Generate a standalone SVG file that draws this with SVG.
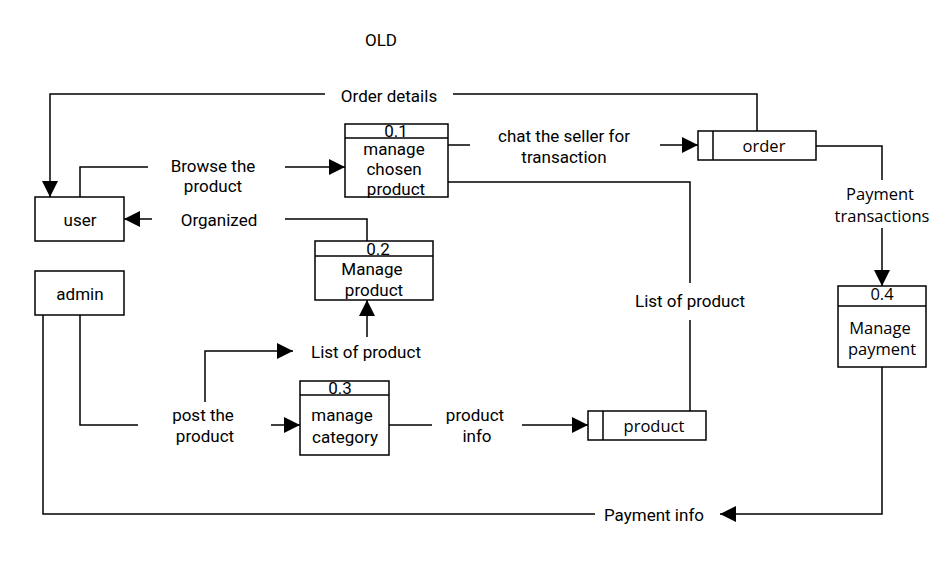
<svg xmlns="http://www.w3.org/2000/svg" width="948" height="588" viewBox="0 0 948 588">
<style>
.b{fill:#fff;stroke:#000;stroke-width:1.5}
.l{fill:none;stroke:#000;stroke-width:1.5}
text{font-family:Roboto,"Liberation Sans",sans-serif;font-size:17px;fill:#000;text-anchor:middle}
.o{font-family:"Open Sans",Roboto,sans-serif;font-size:16.5px}
</style>
<defs>
<marker id="a" viewBox="0 0 10 10" refX="10" refY="5" markerWidth="16" markerHeight="16" markerUnits="userSpaceOnUse" orient="auto">
<path d="M0,0 L10,5 L0,10 z" fill="#000"/>
</marker>
</defs>
<rect width="948" height="588" fill="#fff"/>
<text x="381" y="46">OLD</text>
<g id="connectors">
<path class="l" d="M757,131 V94 H453"/>
<path class="l" d="M325,94 H50 V197" marker-end="url(#a)"/>
<path class="l" d="M80,197 V167 H148"/>
<path class="l" d="M285,167 H345" marker-end="url(#a)"/>
<path class="l" d="M367,241 V219 H285"/>
<path class="l" d="M152,219 H124" marker-end="url(#a)"/>
<path class="l" d="M448,145 H470"/>
<path class="l" d="M660,145 H698" marker-end="url(#a)"/>
<path class="l" d="M448,182 H690 V283"/>
<path class="l" d="M690,320 V411"/>
<path class="l" d="M816,146 H882 V180"/>
<path class="l" d="M882,228 V286" marker-end="url(#a)"/>
<path class="l" d="M882,367 V514 H720" marker-end="url(#a)"/>
<path class="l" d="M595,514 H43 V315"/>
<path class="l" d="M80,315 V425 H138"/>
<path class="l" d="M271,425 H300" marker-end="url(#a)"/>
<path class="l" d="M205,402 V351 H293" marker-end="url(#a)"/>
<path class="l" d="M367,337 V300" marker-end="url(#a)"/>
<path class="l" d="M389,425 H432"/>
<path class="l" d="M522,425 H588" marker-end="url(#a)"/>
<text x="389" y="102">Order details</text>
<text x="213" y="172">Browse the</text>
<text x="213" y="192">product</text>
<text x="219" y="226">Organized</text>
<text x="564" y="142">chat the seller for</text>
<text x="564" y="163">transaction</text>
<text x="690" y="307">List of product</text>
<text class="o" x="880" y="200">Payment</text>
<text class="o" x="882" y="222">transactions</text>
<text x="654" y="521">Payment info</text>
<text x="366" y="358">List of product</text>
<text x="203" y="421">post the</text>
<text x="205" y="442">product</text>
<text x="475" y="421">product</text>
<text x="477" y="442">info</text>
</g>
<g id="user"><rect class="b" x="35" y="197" width="89" height="44"/><text x="80" y="226">user</text></g>
<g id="admin"><rect class="b" x="35" y="271" width="89" height="44"/><text x="80" y="300">admin</text></g>
<g id="p01"><rect class="b" x="345" y="124" width="103" height="73"/><path class="l" d="M345,138 H448"/>
<text x="396" y="137">0.1</text><text x="394" y="155">manage</text><text x="394" y="175">chosen</text><text x="396" y="195">product</text></g>
<g id="p02"><rect class="b" x="315" y="241" width="118" height="59"/><path class="l" d="M315,256 H433"/>
<text x="378" y="255">0.2</text><text x="372" y="275">Manage</text><text x="374" y="296">product</text></g>
<g id="p03"><rect class="b" x="300" y="381" width="89" height="74"/><path class="l" d="M300,395 H389"/>
<text x="340" y="394">0.3</text><text x="342" y="421">manage</text><text x="345" y="443">category</text></g>
<g id="p04"><rect class="b" x="838" y="286" width="88" height="81"/><path class="l" d="M838,306 H926"/>
<text class="o" x="882" y="300">0.4</text><text class="o" x="880" y="334">Manage</text><text class="o" x="882" y="355">payment</text></g>
<g id="order"><rect class="b" x="698" y="131" width="118" height="29"/><path class="l" d="M713,131 V160"/><text class="o" x="764" y="152">order</text></g>
<g id="product"><rect class="b" x="588" y="411" width="118" height="29"/><path class="l" d="M603,411 V440"/><text class="o" x="654" y="432">product</text></g>
</svg>
